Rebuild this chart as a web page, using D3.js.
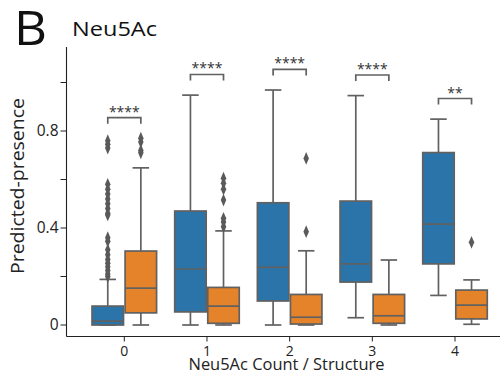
<!DOCTYPE html>
<html>
<head>
<meta charset="utf-8">
<script src="https://cdn.jsdelivr.net/npm/d3@7"></script>
<style>
  html, body { margin: 0; padding: 0; background: #fff; }
  svg { display: block; font-family: "Open Sans", sans-serif; }
</style>
</head>
<body>
<svg id="chart" width="500" height="373"></svg>
<script>
// Neu5Ac count categories and the two groups compared at each count
const categories = ["0", "1", "2", "3", "4"];
const groups = ["a", "b"];
const groupColors = ["#2b74aa", "#e5832a"];

// Box summaries per category: [group a, group b]
const q1 =        [[0.000, 0.050], [0.054, 0.007], [0.099, 0.004], [0.177, 0.007], [0.252, 0.025]];
const medians =   [[0.016, 0.152], [0.231, 0.078], [0.238, 0.032], [0.252, 0.038], [0.416, 0.082]];
const q3 =        [[0.078, 0.305], [0.470, 0.155], [0.504, 0.126], [0.511, 0.126], [0.711, 0.144]];
const whiskLow =  [[0.000, 0.000], [0.000, 0.000], [0.000, 0.000], [0.030, 0.000], [0.122, 0.003]];
const whiskHigh = [[0.188, 0.648], [0.948, 0.388], [0.969, 0.306], [0.946, 0.268], [0.849, 0.186]];
const outliers = [
  [[0.20, 0.21, 0.225, 0.24, 0.255, 0.27, 0.29, 0.31, 0.345, 0.36, 0.454,
    0.46, 0.48, 0.50, 0.52, 0.54, 0.56, 0.58, 0.73, 0.745, 0.76],
   [0.71, 0.72, 0.755, 0.77]],
  [[], [0.405, 0.425, 0.44, 0.515, 0.56, 0.585, 0.605]],
  [[], [0.385, 0.687]],
  [[], []],
  [[], [0.341]]
];

// Significance labels per category
const sigLabels = ["****", "****", "****", "****", "**"];

// Axis ticks
const yTicks = [0, 0.2, 0.4, 0.6, 0.8, 1.0];
const yTickLabels = ["0", "", "0.4", "", "0.8", ""];

const svg = d3.select("#chart");
const lineColor = "#616161";

const x = d3.scalePoint().domain(categories).range([124.3, 455]);
const step = x.step();
const y = d3.scaleLinear().domain([0, 0.8]).range([325, 131]);

const plotLeft = 66.5, plotTop = 47, plotBottom = 336.5, plotRight = 500;

// Spines
svg.append("line")
  .attr("x1", plotLeft).attr("x2", plotLeft)
  .attr("y1", plotTop).attr("y2", plotBottom)
  .attr("stroke", "#222").attr("stroke-width", 1.1);
svg.append("line")
  .attr("x1", plotLeft).attr("x2", plotRight)
  .attr("y1", plotBottom).attr("y2", plotBottom)
  .attr("stroke", "#222").attr("stroke-width", 1.1);

// Y axis ticks and labels
const yAxis = svg.append("g");
yTicks.forEach((t, i) => {
  yAxis.append("line")
    .attr("x1", plotLeft - 6).attr("x2", plotLeft)
    .attr("y1", y(t)).attr("y2", y(t))
    .attr("stroke", "#222").attr("stroke-width", 1);
  if (yTickLabels[i]) {
    yAxis.append("text")
      .attr("x", plotLeft - 8).attr("y", y(t))
      .attr("dy", "0.35em")
      .attr("text-anchor", "end")
      .attr("font-size", 15.5).attr("fill", "#222")
      .text(yTickLabels[i]);
  }
});

// X axis ticks and labels
categories.forEach(c => {
  svg.append("line")
    .attr("x1", x(c)).attr("x2", x(c))
    .attr("y1", plotBottom).attr("y2", plotBottom + 5)
    .attr("stroke", "#222").attr("stroke-width", 1);
  svg.append("text")
    .attr("x", x(c)).attr("y", 355.5)
    .attr("text-anchor", "middle")
    .attr("font-size", 14).attr("fill", "#222")
    .text(c);
});

// Boxes
const boxW = step * 0.8 / 2;
const marks = svg.append("g");
categories.forEach((c, ci) => {
  groups.forEach((g, gi) => {
    const cx = x(c) + (gi === 0 ? -boxW / 2 : boxW / 2);
    const half = boxW / 2 - 0.8;
    const capHalf = boxW / 4;
    // whiskers
    marks.append("line")
      .attr("x1", cx).attr("x2", cx)
      .attr("y1", y(q3[ci][gi])).attr("y2", y(whiskHigh[ci][gi]))
      .attr("stroke", lineColor).attr("stroke-width", 1.7);
    marks.append("line")
      .attr("x1", cx).attr("x2", cx)
      .attr("y1", y(q1[ci][gi])).attr("y2", y(whiskLow[ci][gi]))
      .attr("stroke", lineColor).attr("stroke-width", 1.7);
    [whiskHigh[ci][gi], whiskLow[ci][gi]].forEach(v => {
      marks.append("line")
        .attr("x1", cx - capHalf).attr("x2", cx + capHalf)
        .attr("y1", y(v)).attr("y2", y(v))
        .attr("stroke", lineColor).attr("stroke-width", 1.7);
    });
    // box
    marks.append("rect")
      .attr("x", cx - half).attr("width", half * 2)
      .attr("y", y(q3[ci][gi]))
      .attr("height", Math.max(0.5, y(q1[ci][gi]) - y(q3[ci][gi])))
      .attr("fill", groupColors[gi])
      .attr("stroke", lineColor).attr("stroke-width", 1.7);
    // median
    marks.append("line")
      .attr("x1", cx - half).attr("x2", cx + half)
      .attr("y1", y(medians[ci][gi])).attr("y2", y(medians[ci][gi]))
      .attr("stroke", lineColor).attr("stroke-width", 1.7);
    // outliers
    const diamond = d3.symbol().type(d3.symbolDiamond).size(36);
    outliers[ci][gi].forEach(v => {
      marks.append("path")
        .attr("d", diamond())
        .attr("transform", `translate(${cx},${y(v)}) scale(0.85,1.15)`)
        .attr("fill", "#5a5a5a");
    });
  });
});

// Significance brackets
categories.forEach((c, ci) => {
  const top = d3.max(groups.map((g, gi) =>
    d3.max([whiskHigh[ci][gi], ...outliers[ci][gi]])));
  const yb = y(top + 0.06), yt = y(top + 0.085);
  const xa = x(c) - boxW / 2, xb = x(c) + boxW / 2;
  svg.append("path")
    .attr("d", `M${xa},${yb}V${yt}H${xb}V${yb}`)
    .attr("fill", "none").attr("stroke", lineColor).attr("stroke-width", 1.7);
  svg.append("text")
    .attr("x", (xa + xb) / 2).attr("y", yt - 1)
    .attr("text-anchor", "middle")
    .attr("font-size", 14).attr("fill", "#333")
    .text(sigLabels[ci]);
});

// Axis titles
svg.append("text")
  .attr("transform", `translate(24,${(97 + 275) / 2}) rotate(-90)`)
  .attr("text-anchor", "middle")
  .attr("font-size", 17.5).attr("fill", "#222")
  .attr("textLength", 176).attr("lengthAdjust", "spacingAndGlyphs")
  .text("Predicted-presence");
svg.append("text")
  .attr("x", 286.5).attr("y", 370)
  .attr("text-anchor", "middle")
  .attr("font-size", 15.5).attr("fill", "#222")
  .attr("textLength", 196).attr("lengthAdjust", "spacingAndGlyphs")
  .text("Neu5Ac Count / Structure");

// Panel letter and title
svg.append("text")
  .attr("x", 14).attr("y", 45)
  .attr("font-size", 48).attr("fill", "#111")
  .attr("textLength", 33).attr("lengthAdjust", "spacingAndGlyphs")
  .text("B");
svg.append("text")
  .attr("x", 72).attr("y", 35.5)
  .attr("font-size", 20).attr("fill", "#111")
  .attr("textLength", 85).attr("lengthAdjust", "spacingAndGlyphs")
  .text("Neu5Ac");
</script>
</body>
</html>
